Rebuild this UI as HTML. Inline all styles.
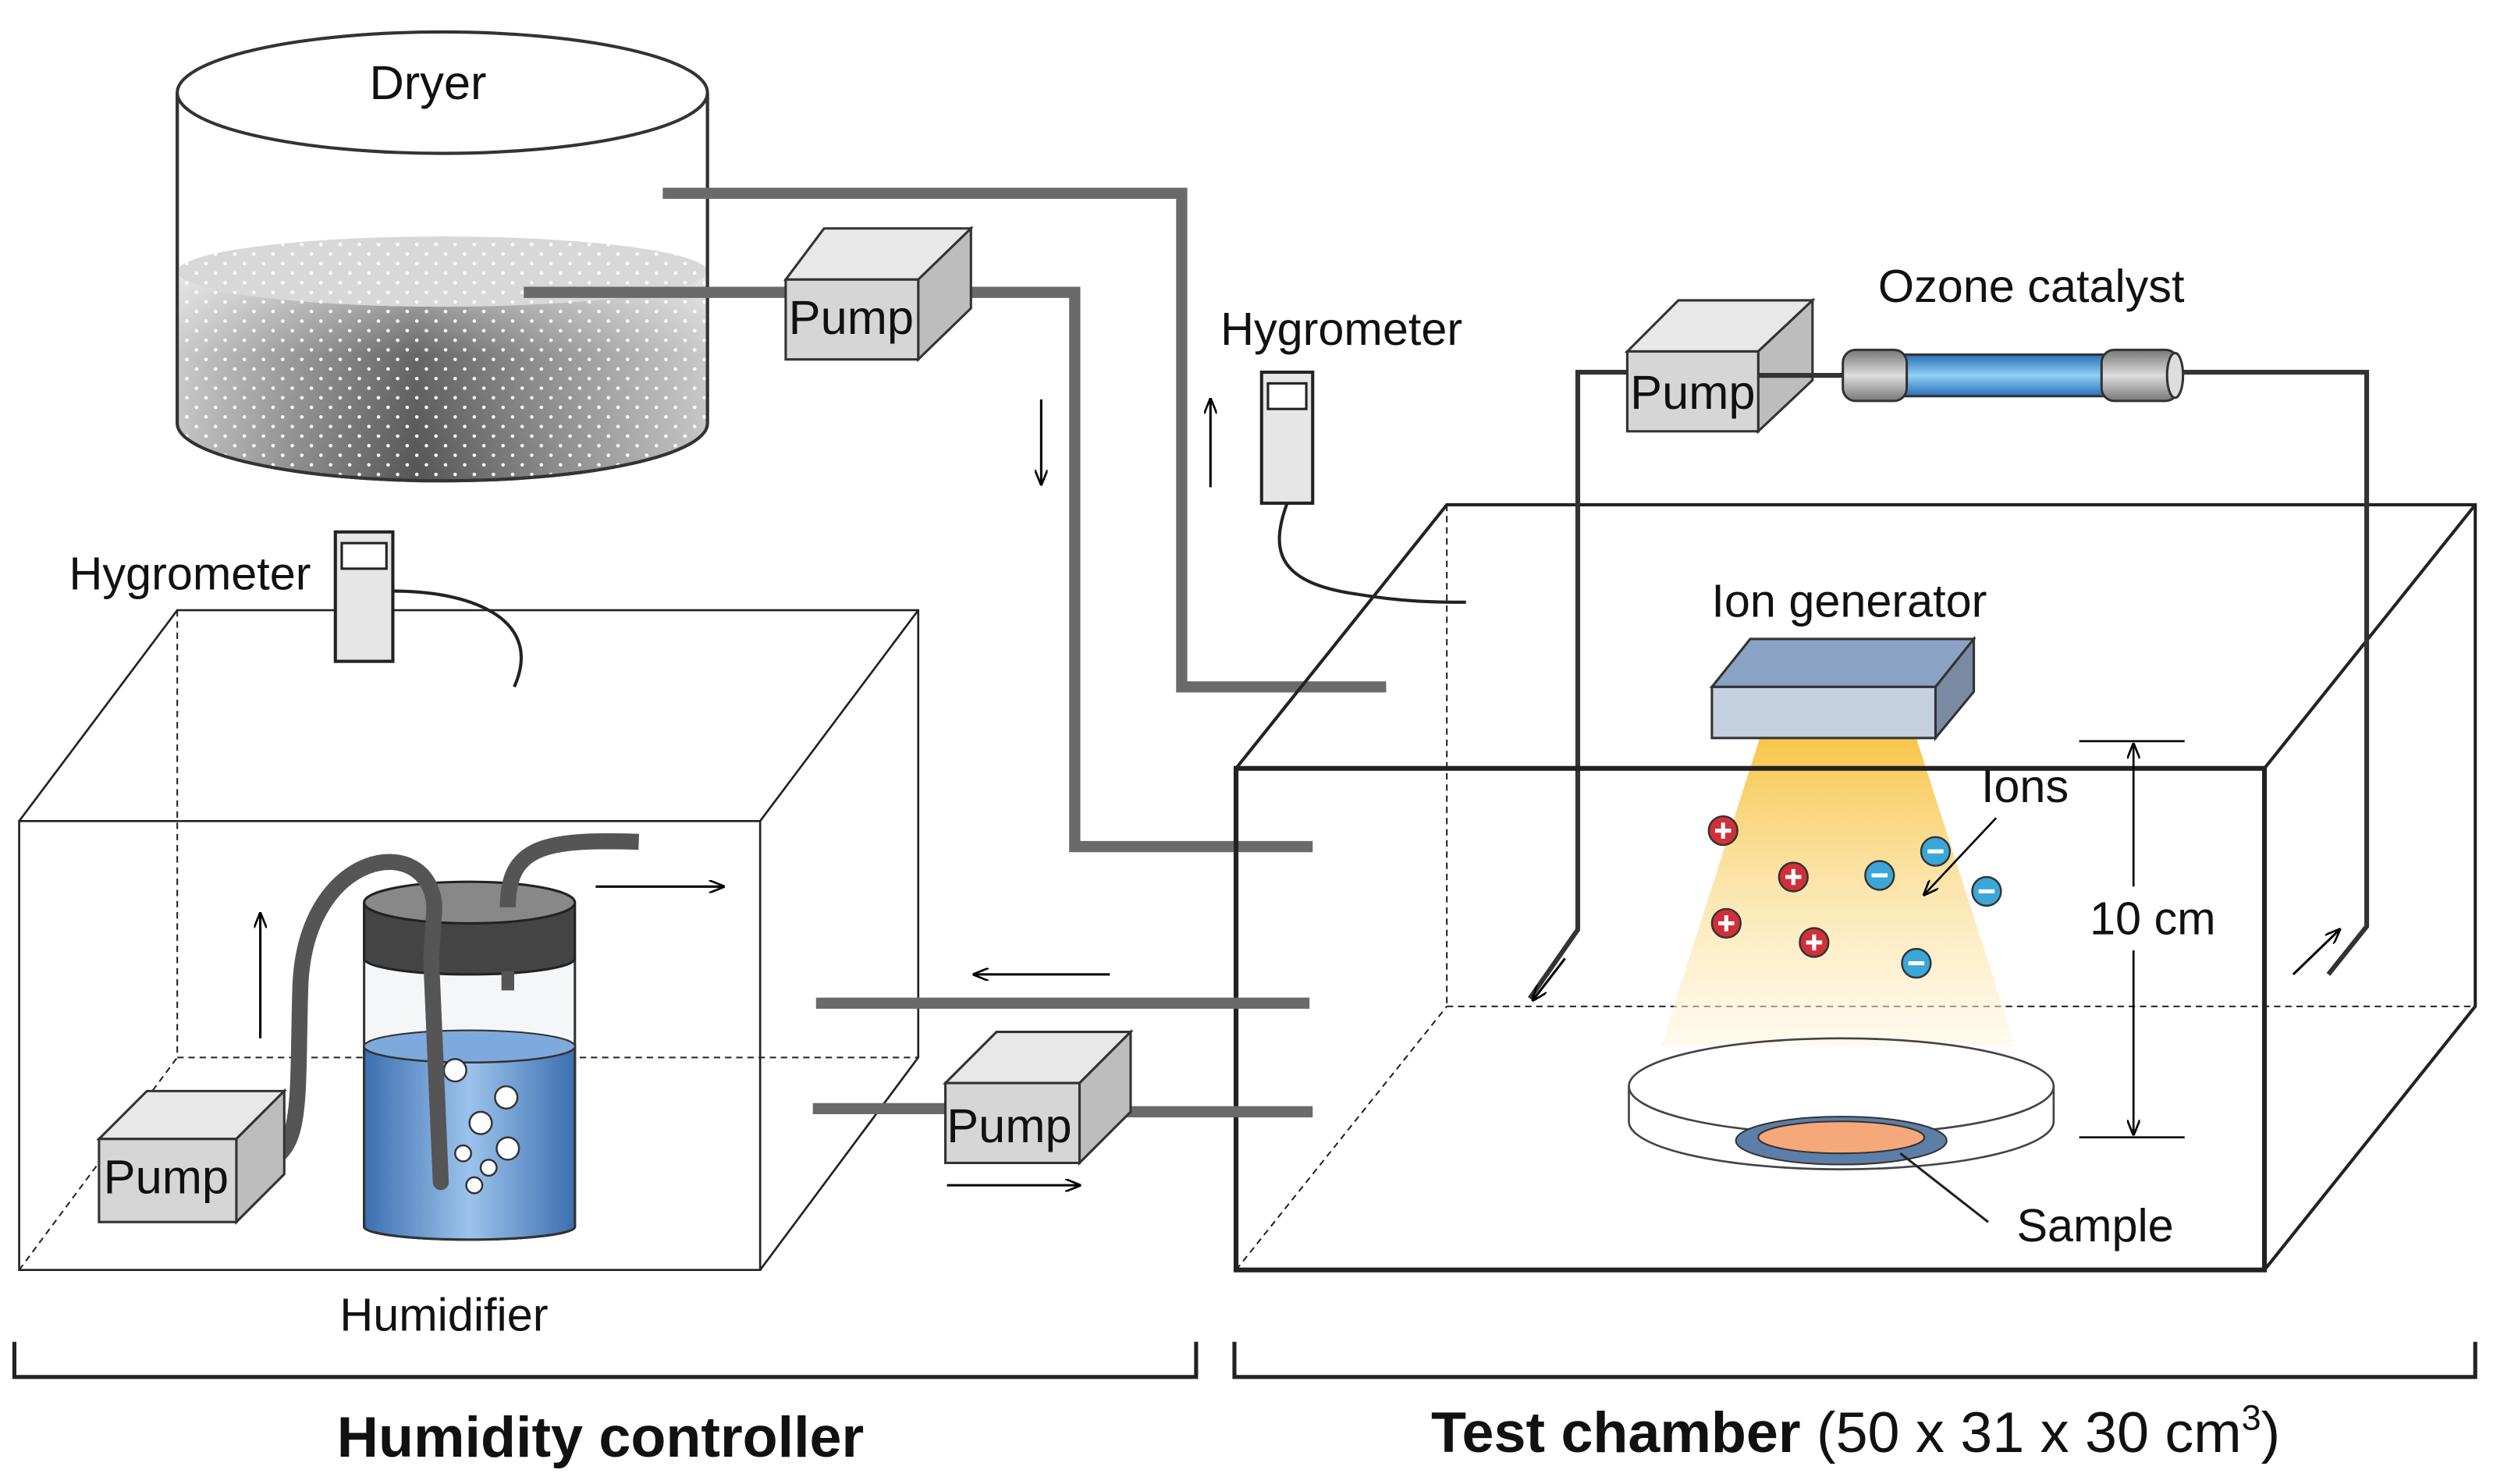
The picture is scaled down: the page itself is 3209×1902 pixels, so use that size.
<!DOCTYPE html>
<html><head><meta charset="utf-8"><style>
html,body{margin:0;padding:0;background:#fff;}
svg{display:block;}
text{font-family:"Liberation Sans",sans-serif;fill:#111;}
</style></head><body>
<svg width="3209" height="1902" viewBox="0 0 1568 929" preserveAspectRatio="none" xmlns="http://www.w3.org/2000/svg">
<defs>
<linearGradient id="dry" x1="0" x2="1" y1="0" y2="0">
<stop offset="0" stop-color="#c4c4c4"/><stop offset="0.45" stop-color="#555"/><stop offset="1" stop-color="#c4c4c4"/>
</linearGradient>
<linearGradient id="dryv" x1="0" x2="0" y1="0" y2="1">
<stop offset="0" stop-color="#fff" stop-opacity="0.6"/><stop offset="0.4" stop-color="#fff" stop-opacity="0.1"/><stop offset="1" stop-color="#fff" stop-opacity="0"/>
</linearGradient>
<pattern id="dots" width="12" height="12" patternUnits="userSpaceOnUse"><circle cx="3" cy="3" r="1.1" fill="#fff"/><circle cx="9" cy="9" r="1.1" fill="#fff"/></pattern>
<linearGradient id="water" x1="0" x2="1"><stop offset="0" stop-color="#3c6fb0"/><stop offset="0.5" stop-color="#9cc3ec"/><stop offset="1" stop-color="#3c6fb0"/></linearGradient>
<linearGradient id="cone" x1="0" x2="0" y1="0" y2="1"><stop offset="0" stop-color="#f7c54a"/><stop offset="1" stop-color="#fff6de" stop-opacity="0.5"/></linearGradient>
<linearGradient id="tube" x1="0" x2="0" y1="0" y2="1"><stop offset="0" stop-color="#2a6fb8"/><stop offset="0.5" stop-color="#8fd0f5"/><stop offset="1" stop-color="#2a6fb8"/></linearGradient>
<linearGradient id="cap" x1="0" x2="0" y1="0" y2="1"><stop offset="0" stop-color="#777"/><stop offset="0.5" stop-color="#ddd"/><stop offset="1" stop-color="#777"/></linearGradient>
<marker id="ah" markerWidth="10" markerHeight="8" refX="9" refY="4" orient="auto" markerUnits="userSpaceOnUse"><path d="M0,0 L10,4 L0,8" fill="none" stroke="#000" stroke-width="1.3"/></marker>
</defs>

<!-- Dryer -->
<path d="M111,58 L111,265 A166,36 0 0 0 443,265 L443,58" fill="#fff" stroke="#333" stroke-width="2"/>
<path d="M111,170 A166,22 0 0 0 443,170 L443,265 A166,36 0 0 1 111,265 Z" fill="url(#dry)"/>
<path d="M111,170 A166,22 0 0 0 443,170 L443,265 A166,36 0 0 1 111,265 Z" fill="url(#dryv)"/>
<path d="M111,170 A166,22 0 0 0 443,170 L443,265 A166,36 0 0 1 111,265 Z" fill="url(#dots)"/>
<ellipse cx="277" cy="170" rx="166" ry="22" fill="#d8d8d8"/>
<ellipse cx="277" cy="170" rx="166" ry="22" fill="url(#dots)"/>
<path d="M111,58 L111,265 A166,36 0 0 0 443,265 L443,58" fill="none" stroke="#333" stroke-width="2"/>
<ellipse cx="277" cy="58" rx="166" ry="38" fill="#fff" stroke="#333" stroke-width="2"/>
<text x="268" y="62" font-size="30" text-anchor="middle">Dryer</text>

<!-- pipes from dryer -->
<polyline points="415,121 740,121 740,430 868,430" fill="none" stroke="#6a6a6a" stroke-width="7"/>
<polyline points="328,183 495,183" fill="none" stroke="#6a6a6a" stroke-width="7"/>
<polyline points="585,183 673,183 673,530 822,530" fill="none" stroke="#6a6a6a" stroke-width="7"/>
<g stroke="#333" stroke-width="1.5">
<polygon points="492,175 516,143 608,143 584,175" fill="#e8e8e8"/>
<polygon points="575,175 608,143 608,193 575,225" fill="#bdbdbd"/>
<rect x="492" y="175" width="83" height="50" fill="#d6d6d6"/>
</g>
<text x="533" y="209" font-size="30" text-anchor="middle">Pump</text>

<line x1="652" y1="250" x2="652" y2="303" stroke="#000" stroke-width="1.5" marker-end="url(#ah)"/>
<line x1="758" y1="305" x2="758" y2="250" stroke="#000" stroke-width="1.5" marker-end="url(#ah)"/>

<!-- Hygrometer right -->
<text x="840" y="216" font-size="29" text-anchor="middle">Hygrometer</text>
<path d="M806,315 C795,345 800,365 850,372 C880,377 900,377 918,377" fill="none" stroke="#222" stroke-width="2"/>
<rect x="790" y="233" width="32" height="82" fill="#e6e6e6" stroke="#222" stroke-width="2"/>
<rect x="794" y="240" width="24" height="16" fill="#fff" stroke="#222" stroke-width="1.5"/>

<!-- Test chamber -->
<g fill="none" stroke="#222" stroke-width="2">
<line x1="906" y1="316" x2="906" y2="630" stroke-dasharray="4,3" stroke-width="1"/>
<line x1="906" y1="630" x2="1550" y2="630" stroke-dasharray="4,3" stroke-width="1"/>
<line x1="774" y1="795" x2="906" y2="630" stroke-dasharray="4,3" stroke-width="1"/>
<polyline points="774,481 906,316 1550,316 1550,630 1418,795"/>
<line x1="1418" y1="481" x2="1550" y2="316"/>
</g>

<!-- ozone loop -->
<polyline points="1022,233 988,233 988,582 958,625" fill="none" stroke="#333" stroke-width="3"/>
<polyline points="1360,233 1482,233 1482,580 1458,610" fill="none" stroke="#333" stroke-width="3"/>
<line x1="980" y1="600" x2="960" y2="626" stroke="#000" stroke-width="1.5" marker-end="url(#ah)"/>
<line x1="1436" y1="610" x2="1465" y2="582" stroke="#000" stroke-width="1.5" marker-end="url(#ah)"/>
<g stroke="#333" stroke-width="1.5">
<polygon points="1019,220 1051,188 1135,188 1101,220" fill="#e8e8e8"/>
<polygon points="1101,220 1135,188 1135,238 1101,270" fill="#bdbdbd"/>
<rect x="1019" y="220" width="82" height="50" fill="#d6d6d6"/>
</g>
<text x="1060" y="256" font-size="30" text-anchor="middle">Pump</text>
<line x1="1101" y1="235" x2="1155" y2="235" stroke="#333" stroke-width="3"/>
<rect x="1190" y="222" width="128" height="26" fill="url(#tube)" stroke="#333" stroke-width="1.5"/>
<rect x="1154" y="219" width="40" height="32" rx="8" fill="url(#cap)" stroke="#333" stroke-width="1.5"/>
<rect x="1316" y="219" width="48" height="32" rx="8" fill="url(#cap)" stroke="#333" stroke-width="1.5"/>
<ellipse cx="1362" cy="235" rx="5" ry="14" fill="#ddd" stroke="#333" stroke-width="1.5"/>
<text x="1272" y="189" font-size="29" text-anchor="middle">Ozone catalyst</text>

<polygon points="1102,462 1200,462 1262,655 1040,655" fill="url(#cone)"/>
<g stroke="#333" stroke-width="1.5">
<polygon points="1072,430 1096,400 1236,400 1212,430" fill="#8aa2c4"/>
<polygon points="1212,430 1236,400 1236,433 1212,462" fill="#7a8aa2"/>
<rect x="1072" y="430" width="140" height="32" fill="#c4cfdf"/>
</g>
<text x="1158" y="386" font-size="29" text-anchor="middle">Ion generator</text>

<rect x="774" y="481" width="644" height="314" fill="none" stroke="#222" stroke-width="3"/>

<path d="M1020,680 L1020,702 A133,30 0 0 0 1286,702 L1286,680" fill="#fff" stroke="#444" stroke-width="1.3"/>
<ellipse cx="1153" cy="680" rx="133" ry="30" fill="none" stroke="#444" stroke-width="1.3"/>
<ellipse cx="1153" cy="714" rx="66" ry="15" fill="#5d7ea6" stroke="#333" stroke-width="1"/>
<ellipse cx="1153" cy="712" rx="52" ry="10" fill="#f5a97a" stroke="#333" stroke-width="1"/>
<line x1="1190" y1="722" x2="1245" y2="765" stroke="#222" stroke-width="1.5"/>
<text x="1312" y="777" font-size="29" text-anchor="middle">Sample</text>

<g stroke="#333" stroke-width="1.2">
<circle cx="1079" cy="520" r="9" fill="#d0303a"/><circle cx="1123" cy="549" r="9" fill="#d0303a"/><circle cx="1081" cy="578" r="9" fill="#d0303a"/><circle cx="1136" cy="590" r="9" fill="#d0303a"/>
<circle cx="1212" cy="533" r="9" fill="#3aa7d8"/><circle cx="1177" cy="548" r="9" fill="#3aa7d8"/><circle cx="1244" cy="558" r="9" fill="#3aa7d8"/><circle cx="1200" cy="603" r="9" fill="#3aa7d8"/>
</g>
<g stroke="#fff" stroke-width="2.5">
<path d="M1074,520h10M1079,515v10M1118,549h10M1123,544v10M1076,578h10M1081,573v10M1131,590h10M1136,585v10"/>
<path d="M1207,533h10M1172,548h10M1239,558h10M1195,603h10"/>
</g>
<text x="1268" y="502" font-size="29" text-anchor="middle">Ions</text>
<line x1="1250" y1="512" x2="1205" y2="560" stroke="#000" stroke-width="1.3" marker-end="url(#ah)"/>

<line x1="1302" y1="464" x2="1368" y2="464" stroke="#000" stroke-width="1.3"/>
<line x1="1302" y1="712" x2="1368" y2="712" stroke="#000" stroke-width="1.3"/>
<line x1="1336" y1="555" x2="1336" y2="466" stroke="#000" stroke-width="1.3" marker-end="url(#ah)"/>
<line x1="1336" y1="595" x2="1336" y2="710" stroke="#000" stroke-width="1.3" marker-end="url(#ah)"/>
<text x="1348" y="585" font-size="29" text-anchor="middle">10 cm</text>

<!-- Humidifier box -->
<g fill="none" stroke="#222">
<line x1="111" y1="382" x2="111" y2="662" stroke-dasharray="4,3" stroke-width="1"/>
<line x1="111" y1="662" x2="575" y2="662" stroke-dasharray="4,3" stroke-width="1"/>
<line x1="12" y1="795" x2="111" y2="662" stroke-dasharray="4,3" stroke-width="1"/>
<polyline points="12,514 111,382 575,382 575,662 476,795" stroke-width="1.3"/>
<line x1="476" y1="514" x2="575" y2="382" stroke-width="1.3"/>
<rect x="12" y="514" width="464" height="281" stroke-width="1.3"/>
</g>
<text x="119" y="369" font-size="29" text-anchor="middle">Hygrometer</text>
<path d="M246,370 C300,370 340,390 322,430" fill="none" stroke="#222" stroke-width="2"/>
<rect x="210" y="333" width="36" height="81" fill="#e6e6e6" stroke="#222" stroke-width="2"/>
<rect x="214" y="340" width="28" height="16" fill="#fff" stroke="#222" stroke-width="1.5"/>
<text x="278" y="833" font-size="29" text-anchor="middle">Humidifier</text>

<path d="M228,600 L228,768 A66,8 0 0 0 360,768 L360,600" fill="#f4f6f8" stroke="#333" stroke-width="1.5"/>
<path d="M228,655 A66,10 0 0 0 360,655 L360,768 A66,8 0 0 1 228,768 Z" fill="url(#water)" stroke="#333" stroke-width="1.5"/>
<ellipse cx="294" cy="655" rx="66" ry="10" fill="#7ea9dd" stroke="#333" stroke-width="1"/>
<path d="M228,565 L228,600 A66,10 0 0 0 360,600 L360,565" fill="#444" stroke="#222" stroke-width="1.5"/>
<ellipse cx="294" cy="565" rx="66" ry="13" fill="#888" stroke="#222" stroke-width="1.5"/>
<g fill="#fff" stroke="#333" stroke-width="1.2">
<circle cx="285" cy="670" r="7"/><circle cx="317" cy="687" r="7"/><circle cx="301" cy="703" r="7"/><circle cx="318" cy="719" r="7"/><circle cx="290" cy="722" r="5"/><circle cx="306" cy="731" r="5"/><circle cx="297" cy="742" r="5"/>
</g>
<path d="M165,728 C190,720 186,690 188,620 C190,530 270,520 272,568 L270,600 L276,740" fill="none" stroke="#555" stroke-width="10" stroke-linecap="round"/>
<path d="M318,568 C318,530 340,525 400,527" fill="none" stroke="#555" stroke-width="10"/>
<line x1="318" y1="608" x2="318" y2="620" stroke="#555" stroke-width="8"/>
<line x1="373" y1="555" x2="453" y2="555" stroke="#000" stroke-width="1.5" marker-end="url(#ah)"/>
<line x1="163" y1="650" x2="163" y2="572" stroke="#000" stroke-width="1.5" marker-end="url(#ah)"/>
<g stroke="#333" stroke-width="1.5">
<polygon points="62,713 92,683 178,683 148,713" fill="#e8e8e8"/>
<polygon points="148,713 178,683 178,735 148,765" fill="#bdbdbd"/>
<rect x="62" y="713" width="86" height="52" fill="#d6d6d6"/>
</g>
<text x="104" y="747" font-size="30" text-anchor="middle">Pump</text>

<line x1="511" y1="628" x2="820" y2="628" stroke="#6a6a6a" stroke-width="7"/>
<line x1="509" y1="694" x2="595" y2="694" stroke="#6a6a6a" stroke-width="7"/>
<line x1="690" y1="696" x2="822" y2="696" stroke="#6a6a6a" stroke-width="7"/>
<g stroke="#333" stroke-width="1.5">
<polygon points="592,678 624,646 708,646 676,678" fill="#e8e8e8"/>
<polygon points="676,678 708,646 708,696 676,728" fill="#bdbdbd"/>
<rect x="592" y="678" width="84" height="50" fill="#d6d6d6"/>
</g>
<text x="632" y="715" font-size="30" text-anchor="middle">Pump</text>
<line x1="695" y1="610" x2="610" y2="610" stroke="#000" stroke-width="1.5" marker-end="url(#ah)"/>
<line x1="593" y1="742" x2="676" y2="742" stroke="#000" stroke-width="1.5" marker-end="url(#ah)"/>

<polyline points="9,840 9,862 749,862 749,840" fill="none" stroke="#222" stroke-width="2.5"/>
<polyline points="773,840 773,862 1550,862 1550,840" fill="none" stroke="#222" stroke-width="2.5"/>
<text x="376" y="912" font-size="36" font-weight="bold" text-anchor="middle">Humidity controller</text>
<text x="1162" y="909" font-size="36" text-anchor="middle"><tspan font-weight="bold">Test chamber</tspan> (50 x 31 x 30 cm<tspan font-size="22" dy="-14">3</tspan><tspan dy="14">)</tspan></text>
</svg>
</body></html>
